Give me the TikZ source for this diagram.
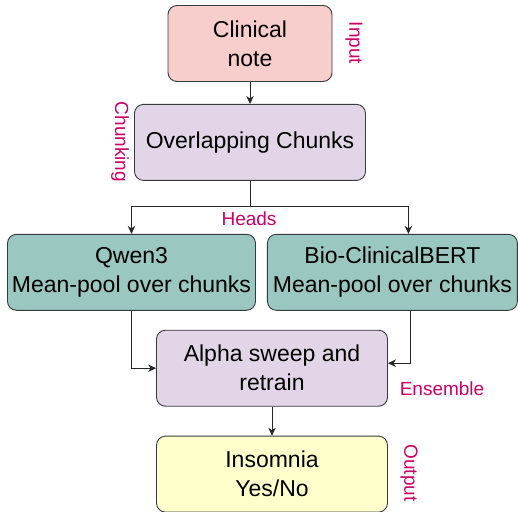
\documentclass[tikz,border=0pt]{standalone}
\usepackage{fontspec}
\setmainfont{Liberation Sans}
\usetikzlibrary{arrows.meta,positioning}
\definecolor{edge}{HTML}{36393D}
\definecolor{rosefill}{HTML}{F8CECC}
\definecolor{lilac}{HTML}{E1D5E7}
\definecolor{teal}{HTML}{9AC7BF}
\definecolor{cream}{HTML}{FFFFCC}
\definecolor{tagc}{HTML}{CC0066}
\tikzset{stage/.style={draw=edge,line width=0.9pt,rounded corners=9pt,align=center,inner sep=2pt,font=\fontsize{23}{29}\selectfont,minimum height=76pt}, tag/.style={text=tagc,font=\fontsize{19}{23}\selectfont,inner sep=0pt}, arr/.style={-{Stealth[length=8pt,width=7.5pt]},line width=0.8pt,draw=black!85}}
\begin{document}
\begin{tikzpicture}[x=1pt,y=1pt,node distance=22pt]
\useasboundingbox (0,0) rectangle (518,-511);
\node[stage,fill=rosefill,minimum width=164pt](note) at (250,-43.5){Clinical\\note};
\node[stage,fill=lilac,minimum width=231pt,below=of note](chunks){Overlapping Chunks};
\node[stage,fill=teal,minimum width=248pt,below=53pt of chunks,xshift=-118.5pt](qwen){Qwen3\\Mean-pool over chunks};
\node[stage,fill=teal,minimum width=250pt,right=11pt of qwen](bio){Bio-ClinicalBERT\\Mean-pool over chunks};
\node[stage,fill=lilac,minimum width=231pt,below=19pt of qwen,xshift=140.5pt](alpha){Alpha sweep and\\retrain};
\node[stage,fill=cream,minimum width=231pt,below=29pt of alpha](out){Insomnia\\Yes/No};
% side labels
\node[tag,rotate=-90](lblin) at (354,-43){Input};
\node[tag,rotate=-90](lblchunk) at (120,-142){Chunking};
\node[tag](lblheads) at (249,-219){Heads};
\node[tag](lblens) at (442,-389){Ensemble};
\node[tag,rotate=-90](lblout) at (409,-473){Output};
% connectors
\coordinate[below=26pt of chunks.south](split);
\draw[arr](note)--(chunks);
\draw[line width=0.8pt,draw=black!85](chunks)--(split);
\draw[arr](split)-|(qwen.north);\draw[arr](split)-|([xshift=16pt]bio.north);
\draw[arr](qwen.south)|-(alpha.west);
\draw[arr]([xshift=18pt]bio.south)|-([yshift=5pt]alpha.east);
\draw[arr](alpha)--(out);
\end{tikzpicture}
\end{document}
